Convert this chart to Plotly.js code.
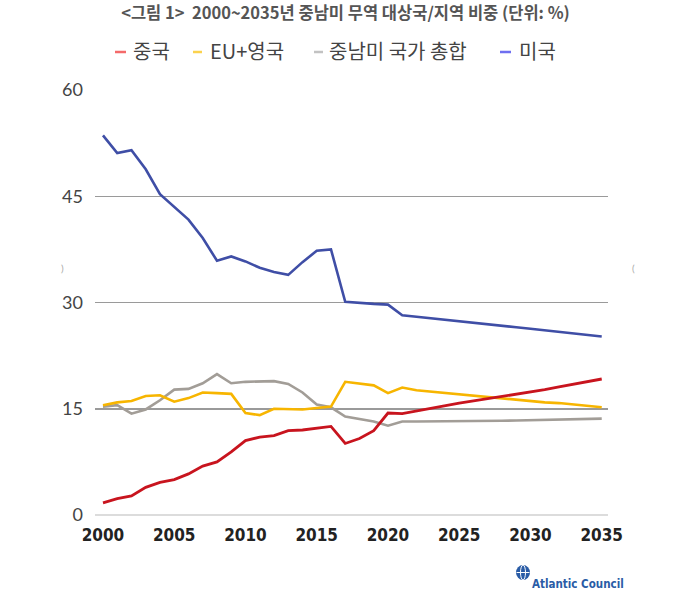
<!DOCTYPE html>
<html>
<head>
<meta charset="utf-8">
<script src="https://cdn.plot.ly/plotly-3.0.1.min.js"></script>
<style>html,body{margin:0;padding:0;background:#fff;}#chart{width:673px;height:601px;}</style>
</head>
<body>
<div id="chart"></div>
<script>
const years = [2000,2001,2002,2003,2004,2005,2006,2007,2008,2009,2010,2011,2012,2013,2014,2015,2016,2017,2018,2019,2020,2021,2022,2023,2024,2025,2026,2027,2028,2029,2030,2031,2032,2033,2034,2035];
const china = [1.7,2.3,2.7,3.9,4.6,5.0,5.8,6.9,7.5,8.9,10.5,11.0,11.2,11.9,12.0,12.3,12.5,10.1,10.8,11.9,14.4,14.3,14.7,15.1,15.5,15.8,16.1,16.4,16.7,17.0,17.3,17.7,18.1,18.5,18.8,19.2];
const euUk = [15.5,15.9,16.1,16.8,16.9,16.0,16.5,17.3,17.2,17.1,14.4,14.1,15.0,15.0,14.9,15.1,15.3,18.8,18.6,18.3,17.2,18.0,17.6,17.4,17.2,17.0,16.85,16.7,16.5,16.3,16.1,15.9,15.8,15.6,15.4,15.2];
const latam = [15.3,15.5,14.3,14.9,16.2,17.7,17.8,18.6,19.9,18.6,18.8,18.9,18.9,18.5,17.3,15.6,15.2,13.9,13.5,13.2,12.6,13.2,13.2,13.2,13.2,13.2,13.25,13.3,13.3,13.35,13.4,13.4,13.45,13.5,13.55,13.6];
const usa = [53.6,51.1,51.5,48.8,45.3,43.5,41.7,39.1,35.9,36.5,35.8,34.9,34.3,33.9,35.7,37.3,37.5,30.1,29.9,29.8,29.7,28.2,28.0,27.8,27.6,27.4,27.2,27.0,26.8,26.5,26.3,26.1,25.9,25.7,25.5,25.2];
const seriesNames = ['중국','EU+영국','중남미 국가 총합','미국'];
const yTicks = [0,15,30,45,60];
const xTicks = [2000,2005,2010,2015,2020,2025,2030,2035];
const titleText = '&lt;그림 1&gt;  2000~2035년 중남미 무역 대상국/지역 비중 (단위: %)';

const lineColors = ['#c8141e','#f7b500','#a29d97','#3f4ea6'];
const legendColors = ['#f46a6a','#fbd24e','#c2c2c2','#6f6ff0'];
const data = [
  {x: years, y: latam, name: seriesNames[2], line:{color: lineColors[2], width: 2.6}},
  {x: years, y: euUk, name: seriesNames[1], line:{color: lineColors[1], width: 2.6}},
  {x: years, y: china, name: seriesNames[0], line:{color: lineColors[0], width: 2.8}},
  {x: years, y: usa, name: seriesNames[3], line:{color: lineColors[3], width: 2.6}}
].map(t => Object.assign({type:'scatter', mode:'lines', hoverinfo:'skip'}, t));

const L = 95, R = 608, T = 90, B = 515;
const px = x => (x - L) / (R - L);
const py = y => (B - y) / (B - T);

const dashX = [[115,126],[193,202],[314,323],[500,511]];
const textX = [131, 208, 327, 517];
const annotations = seriesNames.map((name, i) => ({
  xref:'paper', yref:'paper', x: px(textX[i]), y: py(51), xanchor:'left', yanchor:'middle',
  showarrow:false, text: name,
  font:{family:'Noto Sans CJK KR, Noto Sans, sans-serif', size:20, color:'#444'}
}));
annotations.push({xref:'paper', yref:'paper', x: px(530), y: py(584), xanchor:'left', yanchor:'middle', showarrow:false,
  text:'<b>Atlantic Council</b>', font:{family:'DejaVu Sans Condensed, Roboto, sans-serif', size:11.5, color:'#2a5ca6'}});
annotations.push({xref:'paper', yref:'paper', x: px(62), y: py(268), xanchor:'center', yanchor:'middle', showarrow:false,
  text:')', font:{family:'Lato, sans-serif', size:10, color:'#aaa'}});
annotations.push({xref:'paper', yref:'paper', x: px(633), y: py(268), xanchor:'center', yanchor:'middle', showarrow:false,
  text:'(', font:{family:'Lato, sans-serif', size:10, color:'#aaa'}});

const shapes = dashX.map((d, i) => ({type:'line', xref:'paper', yref:'paper', x0: px(d[0]), x1: px(d[1]), y0: py(52), y1: py(52),
  line:{color: legendColors[i], width: 2.5}}));
shapes.push(
  {type:'circle', xref:'paper', yref:'paper', x0: px(516), x1: px(530), y0: py(580), y1: py(565), fillcolor:'#2a5ca6', line:{width:0}},
  {type:'line', xref:'paper', yref:'paper', x0: px(516.5), x1: px(529.5), y0: py(572.5), y1: py(572.5), line:{color:'#fff', width:1}},
  {type:'circle', xref:'paper', yref:'paper', x0: px(520.5), x1: px(525.5), y0: py(580), y1: py(565), line:{color:'#fff', width:1}}
);

const layout = {
  width: 673, height: 601,
  margin: {l: L, r: 673 - R, t: T, b: 601 - B, pad: 0},
  paper_bgcolor:'#fff', plot_bgcolor:'#fff',
  showlegend: false,
  title: {text: titleText, x: 345.5/673, xanchor:'center', y: 1 - 13.5/601, yanchor:'middle', yref:'container',
    font:{family:'Noto Sans CJK KR, sans-serif', size:16.5, color:'#555', weight: 700}},
  xaxis: {range:[1999.44, 2035.44], tickvals: xTicks, ticktext: xTicks.map(String), showgrid:false, zeroline:false,
    showline:false, ticks:'', ticklabelstandoff: 8,
    tickfont:{family:'DejaVu Sans Condensed, Roboto, sans-serif', size:17, color:'#222', weight: 700}},
  yaxis: {range:[0, 60], tickvals: yTicks, ticktext: yTicks.map(String), showgrid:true, gridcolor:'#9a9a9a', gridwidth:1.5,
    zeroline:true, zerolinecolor:'#dcdcdc', zerolinewidth:2, showline:false, ticks:'', ticklabelstandoff: 11,
    tickfont:{family:'Lato, sans-serif', size:18, color:'#444'}},
  annotations, shapes
};
Plotly.newPlot('chart', data, layout, {displayModeBar:false, staticPlot:true});
</script>
</body>
</html>
